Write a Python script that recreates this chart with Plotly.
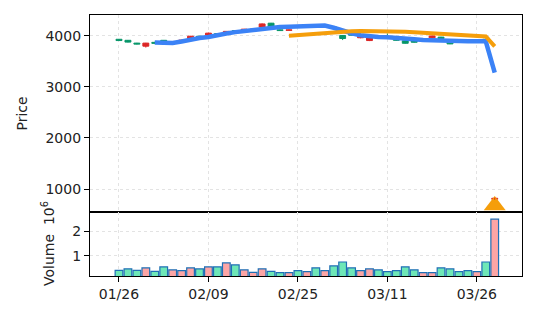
import plotly.graph_objects as go

# ---------------- data ----------------
dates = ["01/26", "01/27", "01/28", "01/29", "01/30", "02/02", "02/03", "02/04", "02/05", "02/06",
         "02/09", "02/10", "02/11", "02/12", "02/13", "02/17", "02/18", "02/19", "02/20", "02/23",
         "02/25", "02/26", "02/27", "03/02", "03/03", "03/04", "03/05", "03/06", "03/09", "03/10",
         "03/11", "03/12", "03/13", "03/16", "03/17", "03/18", "03/19", "03/20", "03/23", "03/24",
         "03/26", "03/27", "03/30"]

opens = [3905, 3875, 3835, 3855, 3850, 3895, 3880, 3915, 3990, 3965,
         4050, 4020, 4085, 4075, 4128, 4130, 4230, 4170, 4100, 4115,
         4170, 4200, 4185, 4215, 4150, 3945, 4010, 4000, 3955, 3960,
         3960, 3910, 3852, 3872, 3925, 3995, 3945, 3840, 3880, 3880,
         3900, 3960, 820]
highs = [3935, 3915, 3860, 3860, 3880, 3915, 3890, 3920, 3995, 3995,
         4060, 4045, 4090, 4110, 4132, 4135, 4240, 4250, 4120, 4120,
         4195, 4205, 4210, 4220, 4175, 4010, 4045, 4010, 3975, 3985,
         4045, 3945, 3905, 3905, 3930, 4000, 3978, 3872, 3905, 3900,
         3905, 3975, 830]
lows = [3900, 3870, 3830, 3768, 3845, 3890, 3860, 3890, 3930, 3960,
        4005, 4015, 4045, 4070, 4090, 4105, 4160, 4165, 4095, 4100,
        4165, 4175, 4180, 4190, 4145, 3915, 4005, 3950, 3895, 3955,
        3955, 3905, 3848, 3868, 3905, 3950, 3940, 3835, 3875, 3875,
        3880, 3955, 790]
closes = [3930, 3910, 3855, 3795, 3870, 3910, 3865, 3895, 3935, 3990,
          4015, 4040, 4048, 4100, 4095, 4110, 4170, 4245, 4115, 4105,
          4190, 4180, 4205, 4195, 4170, 4005, 4035, 3960, 3905, 3978,
          3975, 3940, 3900, 3900, 3910, 3958, 3972, 3868, 3900, 3895,
          3885, 3970, 800]
volumes_m = [0.41, 0.47, 0.41, 0.51, 0.37, 0.55, 0.43, 0.40, 0.51, 0.47,
             0.55, 0.55, 0.71, 0.63, 0.43, 0.33, 0.47, 0.37, 0.32, 0.32,
             0.40, 0.36, 0.51, 0.40, 0.59, 0.75, 0.51, 0.40, 0.47, 0.43,
             0.36, 0.40, 0.55, 0.43, 0.32, 0.32, 0.51, 0.47, 0.36, 0.40,
             0.36, 0.75, 2.49]
ma5 = [None, None, None, None, 3866, 3852, 3858, 3885, 3925, 3955,
       3975, 3998, 4042, 4070, 4092, 4118, 4145, 4160, 4170, 4176,
       4180, 4184, 4190, 4200, 4155, 4095, 4048, 4010, 3988, 3975,
       3970, 3950, 3935, 3930, 3918, 3908, 3903, 3900, 3896, 3892,
       3890, 3890, 3280]
ma20 = [None] * 19 + [4000, 4012, 4030, 4048, 4062, 4075, 4084, 4088, 4090, 4090,
                      4088, 4085, 4080, 4075, 4068, 4060, 4050, 4040, 4028, 4016,
                      4005, 3995, 3985, 3790]
signal_index = [42]
signal_price = [680]

tick_index = [0, 10, 20, 30, 40]
price_ticks = [1000, 2000, 3000, 4000]
volume_ticks = [1, 2]

# ---------------- styling ----------------
UP = "#079669"
DN = "#dc2626"
VOL_UP = "#6ee7b7"
VOL_DN = "#fca5a5"
VOL_EDGE = "#1f6fb5"
BLUE = "#3B82F6"
ORANGE = "#F59E0B"
GRID = "#e3e3e3"
FONT = "DejaVu Sans"
TXT = "#222222"

idx = list(range(len(dates)))
is_up = [c >= o for o, c in zip(opens, closes)]
body_col = [UP if u else DN for u in is_up]
vol_col = [VOL_UP if u else VOL_DN for u in is_up]

fig = go.Figure()

# signal marker (drawn underneath the candles)
fig.add_trace(go.Scatter(x=signal_index, y=signal_price, mode="markers",
                         marker=dict(symbol="triangle-up", size=19, color=ORANGE),
                         xaxis="x", yaxis="y", hoverinfo="skip"))

# wicks
for col, flag in ((UP, True), (DN, False)):
    wx, wy = [], []
    for i in idx:
        if is_up[i] == flag:
            wx += [i, i, None]
            wy += [lows[i], highs[i], None]
    fig.add_trace(go.Scatter(x=wx, y=wy, mode="lines", line=dict(color=col, width=1),
                             xaxis="x", yaxis="y", hoverinfo="skip"))

# candle bodies
fig.add_trace(go.Bar(x=idx, y=[abs(c - o) for o, c in zip(opens, closes)],
                     base=[min(o, c) for o, c in zip(opens, closes)],
                     width=0.66, marker=dict(color=body_col, line=dict(color=body_col, width=1)),
                     xaxis="x", yaxis="y"))

# moving averages
fig.add_trace(go.Scatter(x=idx, y=ma5, mode="lines", line=dict(color=BLUE, width=4.5),
                         xaxis="x", yaxis="y", connectgaps=False))
fig.add_trace(go.Scatter(x=idx, y=ma20, mode="lines", line=dict(color=ORANGE, width=4),
                         xaxis="x", yaxis="y", connectgaps=False))

# volume
fig.add_trace(go.Bar(x=idx, y=volumes_m, width=0.86,
                     marker=dict(color=vol_col, line=dict(color=VOL_EDGE, width=1.2)),
                     xaxis="x2", yaxis="y2"))

axis_common = dict(showline=True, mirror=True, linecolor="black", linewidth=1.3,
                   zeroline=False, showgrid=True, gridcolor=GRID, griddash="dot", gridwidth=1.2,
                   tickfont=dict(family=FONT, size=14, color=TXT))

xr = [-3.24, 45.05]
fig.update_layout(
    width=537, height=322,
    margin=dict(l=90, r=15, t=15, b=46),
    paper_bgcolor="white", plot_bgcolor="white",
    showlegend=False, barmode="overlay",
    font=dict(family=FONT, size=14, color=TXT),
    xaxis=dict(domain=[0, 1], anchor="y", range=xr, tickvals=tick_index,
               ticktext=[dates[i] for i in tick_index],
               showticklabels=False, ticks="", **axis_common),
    yaxis=dict(domain=[0.245, 1], anchor="x", range=[550, 4405], tickvals=price_ticks,
               ticks="outside", ticklen=5, tickcolor="black", tickwidth=1.2, **axis_common),
    xaxis2=dict(domain=[0, 1], anchor="y2", range=xr, matches="x", tickvals=tick_index,
                ticktext=[dates[i] for i in tick_index], ticks="outside", ticklen=5,
                tickcolor="black", tickwidth=1.2, **axis_common),
    yaxis2=dict(domain=[0, 0.245], anchor="x2", range=[0.18, 2.78], tickvals=volume_ticks,
                ticks="outside", ticklen=5, tickcolor="black", tickwidth=1.2, **axis_common),
    annotations=[
        dict(text="Price", xref="paper", yref="paper", x=0, y=0.6225, xshift=-68,
             textangle=-90, showarrow=False, xanchor="center", yanchor="middle",
             font=dict(family=FONT, size=14, color=TXT)),
        dict(text="Volume  10<sup>6</sup>", xref="paper", yref="paper", x=0, y=0.1225, xshift=-42,
             textangle=-90, showarrow=False, xanchor="center", yanchor="middle",
             font=dict(family=FONT, size=14, color=TXT)),
    ],
)

fig.write_html("out.html")
